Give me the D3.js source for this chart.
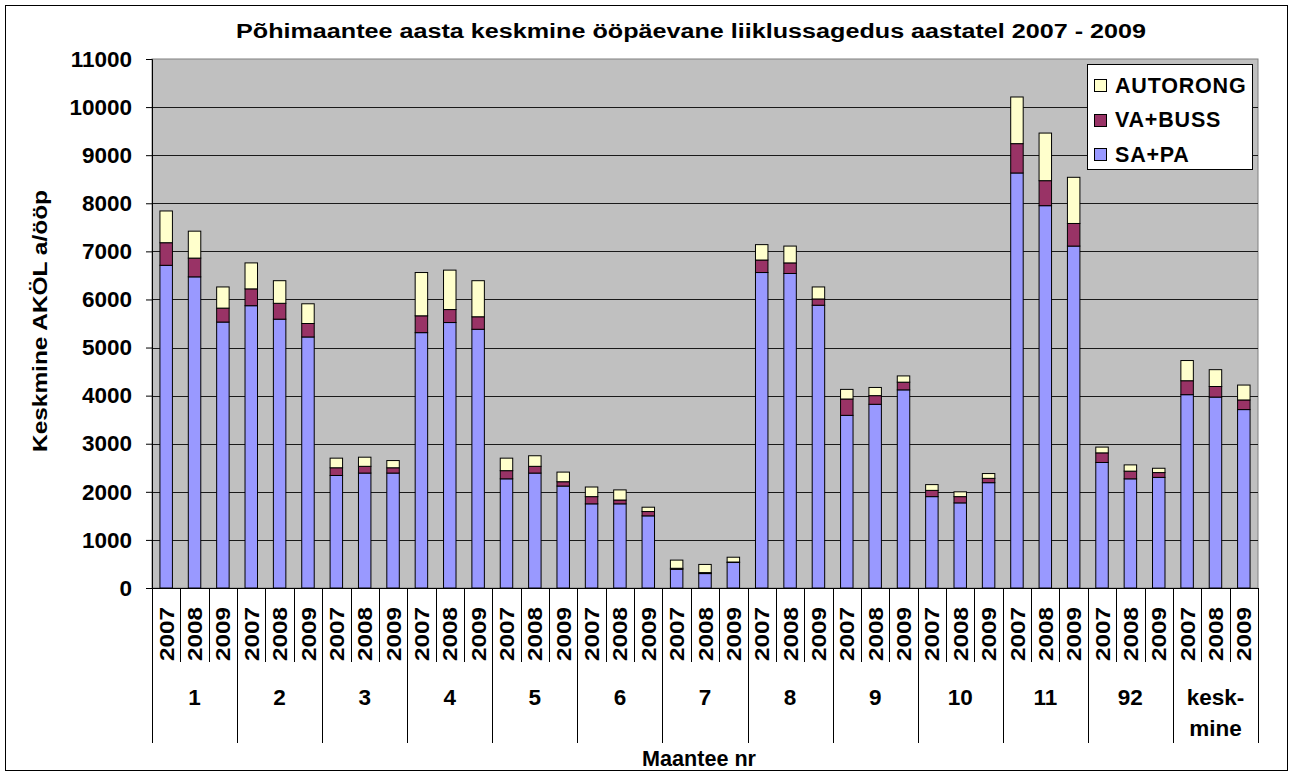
<!DOCTYPE html>
<html>
<head>
<meta charset="utf-8">
<script src="https://cdn.jsdelivr.net/npm/d3@7"></script>
<style>
	body { margin: 0; background: #fff; }
	svg text { font-family: "Liberation Sans", Arial, sans-serif; font-weight: bold; fill: #000; }
</style>
</head>
<body>
<svg width="1292" height="773"></svg>
<script>
// maanteed ja aastad
const roads = ['1', '2', '3', '4', '5', '6', '7', '8', '9', '10', '11', '92', 'kesk-mine'];
const years = ['2007', '2008', '2009'];

// komponendid, iga tee kohta 2007, 2008, 2009
const saPa = [
	6710, 6470, 5530,  5870, 5590, 5220,  2340, 2390, 2390,  5310, 5520, 5380,
	2270, 2390, 2120,  1750, 1750, 1500,  390, 300, 530,  6560, 6540, 5880,
	3590, 3820, 4120,  1900, 1770, 2190,  8630, 7950, 7110,  2610, 2270, 2300,
	4020, 3970, 3710
];
const vaBuss = [
	470, 390, 290,  350, 330, 280,  160, 140, 110,  350, 270, 260,
	170, 140, 90,  150, 80, 90,  20, 20, 10,  260, 220, 130,
	340, 180, 160,  130, 130, 90,  610, 520, 470,  200, 160, 100,
	290, 220, 200
];
const autorong = [
	660, 560, 440,  540, 470, 410,  200, 190, 150,  900, 820, 750,
	260, 220, 200,  200, 210, 90,  170, 170, 100,  320, 350, 250,
	200, 170, 130,  120, 100, 100,  970, 990, 960,  120, 130, 90,
	420, 350, 310
];

const seriesNames = ['SA+PA', 'VA+BUSS', 'AUTORONG'];
const seriesColors = ['#9999FF', '#993366', '#FFFFCC'];
const yTicks = [0, 1000, 2000, 3000, 4000, 5000, 6000, 7000, 8000, 9000, 10000, 11000];

const svg = d3.select('svg');
const plot = { left: 152, right: 1258, top: 59, bottom: 588 };

// tabel d3.stack jaoks
const table = [];
roads.forEach((road, r) => {
	years.forEach((year, j) => {
		const i = r * 3 + j;
		table.push({ idx: i, road: road, year: year,
			'SA+PA': saPa[i], 'VA+BUSS': vaBuss[i], 'AUTORONG': autorong[i] });
	});
});

const x = d3.scaleBand()
	.domain(table.map(d => d.idx))
	.range([plot.left, plot.right])
	.padding(0);
const y = d3.scaleLinear()
	.domain([0, 11000])
	.range([plot.bottom, plot.top]);

const step = x.step();
const barW = step * 0.44;

// välimine raam
svg.append('rect')
	.attr('x', 5.5).attr('y', 5.5)
	.attr('width', 1282).attr('height', 765)
	.attr('fill', '#fff').attr('stroke', '#000');

// joonise taust
svg.append('rect')
	.attr('x', plot.left).attr('y', plot.top)
	.attr('width', plot.right - plot.left).attr('height', plot.bottom - plot.top)
	.attr('fill', '#C0C0C0').attr('stroke', '#808080');

// ruudustik
svg.append('g')
	.selectAll('line')
	.data(yTicks.filter(t => t > 0 && t < 11000))
	.enter().append('line')
		.attr('x1', plot.left).attr('x2', plot.right)
		.attr('y1', d => Math.round(y(d)) + 0.5).attr('y2', d => Math.round(y(d)) + 0.5)
		.attr('stroke', '#1a1a1a');

// tulbad
const stack = d3.stack().keys(seriesNames);
const layers = stack(table);

svg.append('g')
	.selectAll('g')
	.data(layers)
	.enter().append('g')
		.attr('fill', (d, k) => seriesColors[k])
	.selectAll('rect')
	.data(d => d)
	.enter().append('rect')
		.attr('x', d => x(d.data.idx) + (step - barW) / 2)
		.attr('width', barW)
		.attr('y', d => y(d[1]))
		.attr('height', d => y(d[0]) - y(d[1]))
		.attr('stroke', '#000')
		.attr('stroke-width', 1);

// y-telg
const yAxis = svg.append('g')
	.attr('transform', `translate(${plot.left},0)`)
	.call(d3.axisLeft(y).tickValues(yTicks).tickFormat(d3.format('d')).tickSize(6).tickPadding(14));
yAxis.select('.domain').attr('stroke', '#000');
yAxis.selectAll('line').attr('stroke', '#000');
yAxis.selectAll('text')
	.attr('font-size', 22.5)
	.style('font-family', '"Liberation Sans", Arial, sans-serif')
	.style('font-weight', 'bold');

// x-telje alumine joon
svg.append('line')
	.attr('x1', plot.left).attr('x2', plot.right)
	.attr('y1', plot.bottom + 0.5).attr('y2', plot.bottom + 0.5)
	.attr('stroke', '#000');

// aastate eraldajad
const sepY = 662, groupSepY = 743;
const seps = d3.range(0, table.length + 1);
svg.append('g')
	.selectAll('line')
	.data(seps)
	.enter().append('line')
		.attr('x1', i => Math.round(plot.left + i * step) + 0.5)
		.attr('x2', i => Math.round(plot.left + i * step) + 0.5)
		.attr('y1', plot.bottom)
		.attr('y2', i => i % 3 === 0 ? groupSepY : sepY)
		.attr('stroke', '#000');

// aastate sildid
svg.append('g')
	.selectAll('text')
	.data(table)
	.enter().append('text')
		.attr('transform', d => `translate(${x(d.idx) + step / 2},634) rotate(-90)`)
		.attr('text-anchor', 'middle')
		.attr('dy', '0.36em')
		.attr('font-size', 21)
		.attr('textLength', 54)
		.attr('lengthAdjust', 'spacingAndGlyphs')
		.text(d => d.year);

// maantee numbrid
const groupG = svg.append('g');
roads.forEach((road, r) => {
	const cx = plot.left + (r * 3 + 1.5) * step;
	const parts = road === 'kesk-mine' ? ['kesk-', 'mine'] : [road];
	parts.forEach((p, k) => {
		groupG.append('text')
			.attr('x', cx)
			.attr('y', 697 + k * 31)
			.attr('dy', '0.35em')
			.attr('text-anchor', 'middle')
			.attr('font-size', 22.5)
			.text(p);
	});
});

// pealkirjad
svg.append('text')
	.attr('x', 691).attr('y', 38)
	.attr('text-anchor', 'middle')
	.attr('font-size', 19.5)
	.attr('textLength', 910)
	.attr('lengthAdjust', 'spacingAndGlyphs')
	.text('Põhimaantee aasta keskmine ööpäevane liiklussagedus aastatel 2007 - 2009');

svg.append('text')
	.attr('transform', 'translate(40,321) rotate(-90)')
	.attr('text-anchor', 'middle')
	.attr('dy', '0.35em')
	.attr('font-size', 19.5)
	.attr('textLength', 262)
	.attr('lengthAdjust', 'spacingAndGlyphs')
	.text('Keskmine AKÖL a/ööp');

svg.append('text')
	.attr('x', 699).attr('y', 758)
	.attr('dy', '0.35em')
	.attr('text-anchor', 'middle')
	.attr('font-size', 21.5)
	.attr('textLength', 114)
	.attr('lengthAdjust', 'spacingAndGlyphs')
	.text('Maantee nr');

// legend
const legend = svg.append('g');
legend.append('rect')
	.attr('x', 1087.5).attr('y', 64.5)
	.attr('width', 165).attr('height', 105)
	.attr('fill', '#fff').attr('stroke', '#000');

const legendOrder = [2, 1, 0];
legendOrder.forEach((k, row) => {
	const cy = 85 + row * 34.5;
	legend.append('rect')
		.attr('x', 1094.5).attr('y', Math.round(cy - 6) + 0.5)
		.attr('width', 12).attr('height', 12)
		.attr('fill', seriesColors[k]).attr('stroke', '#000');
	legend.append('text')
		.attr('x', 1115).attr('y', cy)
		.attr('dy', '0.36em')
		.attr('font-size', 21.5)
		.attr('letter-spacing', 0.8)
		.text(seriesNames[k]);
});
</script>
</body>
</html>
